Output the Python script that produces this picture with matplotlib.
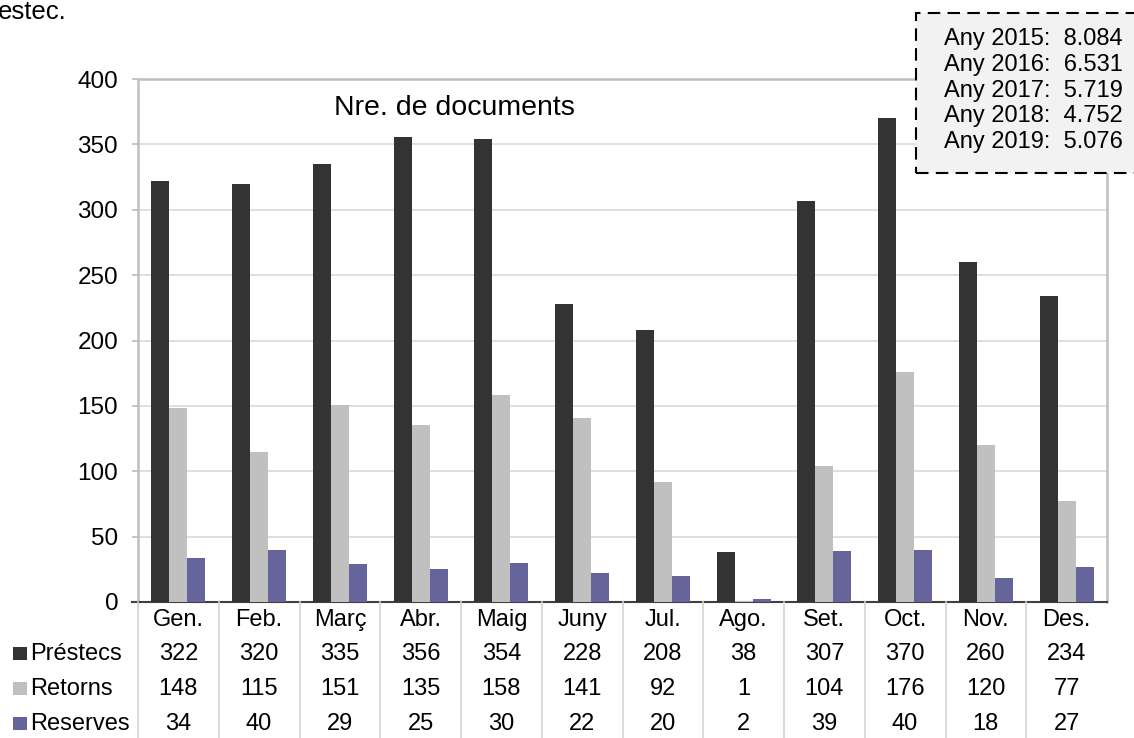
import matplotlib
matplotlib.use("Agg")
import matplotlib.pyplot as plt
from matplotlib.patches import Rectangle
from matplotlib.lines import Line2D
import matplotlib.transforms as mtransforms

plt.rcParams['font.family'] = ['Liberation Sans', 'DejaVu Sans']

months = ["Gen.", "Feb.", "Març", "Abr.", "Maig", "Juny", "Jul.", "Ago.", "Set.", "Oct.", "Nov.", "Des."]
series_names = ["Préstecs", "Retorns", "Reserves"]
prestecs = [322, 320, 335, 356, 354, 228, 208, 38, 307, 370, 260, 234]
retorns = [148, 115, 151, 135, 158, 141, 92, 1, 104, 176, 120, 77]
reserves = [34, 40, 29, 25, 30, 22, 20, 2, 39, 40, 18, 27]
years = [2015, 2016, 2017, 2018, 2019]
year_totals = ["8.084", "6.531", "5.719", "4.752", "5.076"]
title = "Nre. de documents"
yticks = [0, 50, 100, 150, 200, 250, 300, 350, 400]

colors = ["#333333", "#c0c0c0", "#65659b"]
W, H = 1134, 738
fig = plt.figure(figsize=(W / 100, H / 100), dpi=100)
L, R, T, B = 138, 1107, 79, 602
ax = fig.add_axes([L / W, 1 - B / H, (R - L) / W, (B - T) / H])

x = list(range(len(months)))
bw = 0.223
series = [prestecs, retorns, reserves]
for k, (vals, c) in enumerate(zip(series, colors)):
    ax.bar([xi + (k - 1) * bw for xi in x], vals, width=bw, color=c, zorder=3, linewidth=0)

ax.set_xlim(-0.5, len(months) - 0.5)
ax.set_ylim(0, 400)
ax.set_yticks(yticks)
ax.set_xticks([])
ax.grid(axis='y', color='#d9d9d9', linewidth=1.2, zorder=0)
for s in ['left', 'top', 'right']:
    ax.spines[s].set_color('#bfbfbf')
    ax.spines[s].set_linewidth(1.8)
ax.spines['bottom'].set_color('#404040')
ax.spines['bottom'].set_linewidth(1.5)
ax.tick_params(axis='y', length=4.3, width=1.3, color='#bfbfbf', pad=10, labelsize=17.5, labelcolor='#000000')
ax.add_line(Line2D([-6 / (R - L), 0], [0, 0], transform=ax.transAxes, color='#404040', lw=1.5, clip_on=False))

fig.text(454 / W, 1 - 108 / H, title, ha='center', va='center', fontsize=20.5)

# data table
bt = mtransforms.blended_transform_factory(ax.transData, fig.transFigure)
for k in range(len(months)):
    fig.add_artist(Line2D([k - 0.5, k - 0.5], [1 - B / H, 0], transform=bt, color='#d4d4d4', lw=1.2))
row_y = [620, 654, 689, 724]
for i, m in enumerate(months):
    fig.text(i, 1 - row_y[0] / H, m, transform=bt, ha='center', va='center', fontsize=17)
    for r, vals in enumerate(series):
        fig.text(i, 1 - row_y[r + 1] / H, str(vals[i]), transform=bt, ha='center', va='center', fontsize=17)
for r, name in enumerate(series_names):
    yc = row_y[r + 1]
    fig.add_artist(Rectangle((13 / W, 1 - (yc + 6) / H), 14 / W, 13 / H, transform=fig.transFigure,
                             facecolor=colors[r], edgecolor='none'))
    fig.text(30 / W, 1 - yc / H, name, ha='left', va='center', fontsize=17)

# cropped caption at top-left
fig.text(-2 / W, 1 - 12 / H, "estec.", ha='left', va='center', fontsize=18.5)

# inset box
box = Rectangle((916 / W, 1 - 172.5 / H), (1145 - 916) / W, (172.5 - 12.5) / H, transform=fig.transFigure,
                facecolor='#f2f2f2', edgecolor='#000000', linewidth=1.5, linestyle=(0, (6, 3.5)), zorder=5)
fig.add_artist(box)
box_y = [39, 65, 91, 116, 142]
for yv, yr, tot in zip(box_y, years, year_totals):
    fig.text(1123 / W, 1 - yv / H, f"Any {yr}:  {tot}", ha='right', va='center', fontsize=17, zorder=6)

fig.savefig("out.png", dpi=100)
